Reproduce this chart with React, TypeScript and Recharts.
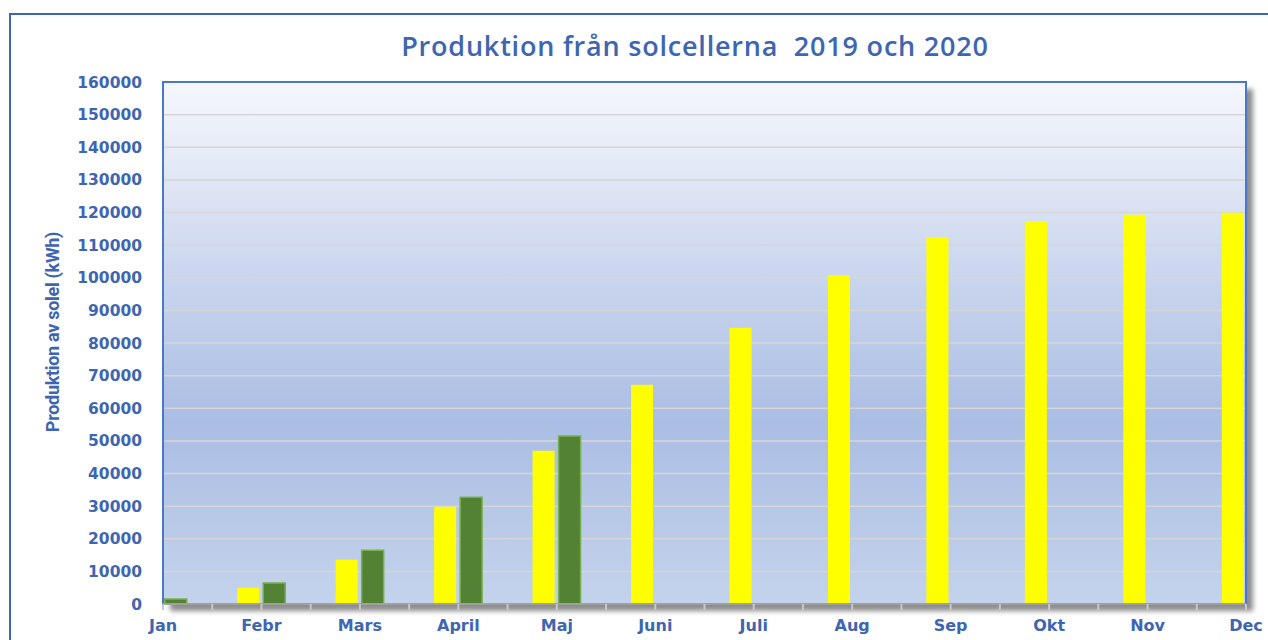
import { BarChart, Bar, XAxis, YAxis, CartesianGrid, ReferenceArea } from 'recharts'

const MONTHS = ['Jan','Febr','Mars','April','Maj','Juni','Juli','Aug','Sep','Okt','Nov','Dec']
const PROD_2019 = [0, 5000, 13600, 29800, 47000, 67200, 84700, 100800, 112400, 117400, 119300, 119900]
const PROD_2020 = [1500, 6400, 16500, 32700, 51500, null, null, null, null, null, null, null]
const Y_TICKS = [0,10000,20000,30000,40000,50000,60000,70000,80000,90000,100000,110000,120000,130000,140000,150000,160000]
const X_TICKS = Array.from({length: 23}, (_, i) => i / 2)

const BLUE = '#3e66b0'

const data = MONTHS.map((m, i) => ({ i, month: m, y2019: PROD_2019[i], y2020: PROD_2020[i] }))

export default function App(){
  return (
    <div style={{position:'absolute', left:0, top:0, width:1268, height:640, overflow:'hidden', background:'#fff'}}>
      {/* outer frame */}
      <div style={{position:'absolute', left:9, top:13, width:1400, height:800, border:`2px solid ${BLUE}`}} />
      {/* plot shadow */}
      <div style={{position:'absolute', left:163, top:82, width:1083, height:522, boxShadow:'7px 7px 5px rgba(0,0,0,0.45)'}} />
      <div style={{position:'absolute', left:0, top:28, width:1390, textAlign:'center', lineHeight:'36px',
        fontFamily:'"Open Sans", sans-serif', fontWeight:600, fontSize:27, letterSpacing:0.8, color:BLUE, whiteSpace:'pre'}}>
        {'Produktion från solcellerna  2019 och 2020'}
      </div>
      {/* y axis title */}
      <div style={{position:'absolute', left:53, top:332, width:0, height:0}}>
        <div style={{position:'absolute', left:-150, top:-12, width:300, height:24, lineHeight:'24px', textAlign:'center',
          transform:'rotate(-90deg)', fontFamily:'Roboto, sans-serif', fontWeight:700, fontSize:18, letterSpacing:-0.3,
          color:BLUE, whiteSpace:'nowrap'}}>
          Produktion av solel (kWh)
        </div>
      </div>
      <div style={{position:'absolute', left:0, top:0}}>
        <BarChart width={1268} height={640} data={data} margin={{top:82, right:22, left:0, bottom:0}} barSize={22} barGap={4}>
          <defs>
            <linearGradient id="plotBg" x1="0" y1="0" x2="0" y2="1">
              <stop offset="0%" stopColor="#f5f7fc" />
              <stop offset="65%" stopColor="#aabde3" />
              <stop offset="100%" stopColor="#c4d3ec" />
            </linearGradient>
          </defs>
          <CartesianGrid vertical={false} fill="url(#plotBg)" fillOpacity={1} stroke="#d6d6d6" strokeWidth={1.5} />
          <XAxis
            dataKey="i"
            type="number"
            domain={[0, 11]}
            ticks={X_TICKS}
            interval={0}
            height={36}
            tickSize={6}
            tickMargin={10}
            stroke="#a0a0a0"
            axisLine={{stroke:'#a0a0a0', strokeWidth:2}}
            tickLine={{stroke:'#c8c8c8', strokeWidth:2}}
            tickFormatter={(v:number) => Number.isInteger(v) ? MONTHS[v] : ''}
            tick={{fill:BLUE, fontFamily:'"DejaVu Sans", sans-serif', fontWeight:700, fontSize:16}}
          />
          <YAxis
            domain={[0, 160000]}
            ticks={Y_TICKS}
            interval={0}
            width={163}
            axisLine={false}
            tickLine={false}
            tickSize={0}
            tickMargin={21}
            tick={{fill:BLUE, fontFamily:'"DejaVu Sans", sans-serif', fontWeight:700, fontSize:15.5}}
          />
          <ReferenceArea x1={0} x2={11} y1={0} y2={160000} fill="none" stroke="#4a78c8" strokeWidth={2} ifOverflow="visible" />
          <Bar dataKey="y2019" fill="#ffff00" isAnimationActive={false} />
          <Bar dataKey="y2020" fill="#548235" stroke="#78b04e" strokeWidth={1.5} isAnimationActive={false} />
        </BarChart>
      </div>
    </div>
  )
}
